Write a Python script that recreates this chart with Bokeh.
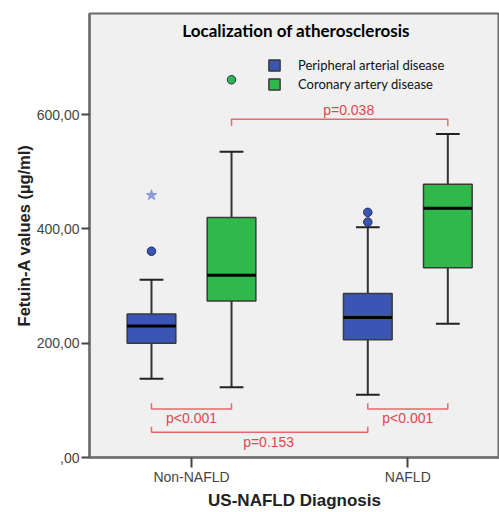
from bokeh.plotting import figure
from bokeh.models import Range1d, FixedTicker, Legend, LegendItem, ColumnDataSource
from bokeh.core.properties import value
from bokeh.embed import file_html
from bokeh.resources import INLINE

# ---------------- data ----------------
groups = ["Non-NAFLD", "NAFLD"]
series = ["Peripheral arterial disease", "Coronary artery disease"]
series_colors = ["#3b55b5", "#2fb94b"]

pad_lower = [138, 110]
pad_q1 = [200, 206]
pad_median = [230, 245]
pad_q3 = [251, 287]
pad_upper = [311, 403]

cad_lower = [123, 234]
cad_q1 = [274, 332]
cad_median = [319, 436]
cad_q3 = [420, 478]
cad_upper = [535, 566]

# outliers: (group index, series index, value)
outlier_group = [0, 1, 1, 0]
outlier_series = [0, 0, 0, 1]
outlier_value = [361, 412, 429, 661]
extreme_group = [0]
extreme_series = [0]
extreme_value = [459]

# significance brackets
bracket_from = [(0, 0), (1, 0), (0, 0), (0, 1)]
bracket_to = [(0, 1), (1, 1), (1, 0), (1, 1)]
bracket_y = [85, 85, 44, 592]
bracket_tip = [95, 95, 54, 580]
bracket_text_y = [70, 70, 27, 608]
bracket_text_dx = [0, 0, 9, 9]
bracket_label = ["p<0.001", "p<0.001", "p=0.153", "p=0.038"]

y_ticks = [0, 200, 400, 600]
y_tick_labels = [",00", "200,00", "400,00", "600,00"]

# ---------------- layout constants ----------------
OFFSET = 0.185
BOX_W = 0.225
CAP_W = 0.11
RED = "#e0474c"
AXIS_FONT = "Liberation Sans"
X0, X1 = 0.5284, 2.4239

def xpos(g, s):
    return (g + 1) + (OFFSET if s == 1 else -OFFSET)

p = figure(width=499, height=512, output_backend="svg", toolbar_location=None,
           x_range=Range1d(X0, X1), y_range=Range1d(0, 777),
           min_border_left=89, min_border_right=0, min_border_top=13, min_border_bottom=55)
p.background_fill_color = "#f0f0f0"
p.border_fill_color = "white"
p.outline_line_color = "#6a6a6a"
p.outline_line_width = 2
p.xgrid.visible = False
p.ygrid.visible = False

stats = [
    (pad_lower, pad_q1, pad_median, pad_q3, pad_upper),
    (cad_lower, cad_q1, cad_median, cad_q3, cad_upper),
]

legend_items = []
for s, (lo, q1, med, q3, up) in enumerate(stats):
    xs = [xpos(g, s) for g in range(len(groups))]
    src = ColumnDataSource(dict(
        x=xs, left=[x - BOX_W / 2 for x in xs], right=[x + BOX_W / 2 for x in xs],
        cl=[x - CAP_W / 2 for x in xs], cr=[x + CAP_W / 2 for x in xs],
        lo=lo, q1=q1, med=med, q3=q3, up=up))
    p.segment(x0="x", y0="q3", x1="x", y1="up", source=src, line_color="#333333", line_width=2)
    p.segment(x0="x", y0="q1", x1="x", y1="lo", source=src, line_color="#333333", line_width=2)
    p.segment(x0="cl", y0="up", x1="cr", y1="up", source=src, line_color="#222222", line_width=2)
    p.segment(x0="cl", y0="lo", x1="cr", y1="lo", source=src, line_color="#222222", line_width=2)
    r = p.quad(left="left", right="right", bottom="q1", top="q3", source=src,
               fill_color=series_colors[s], line_color="#3a3a3a", line_width=1.5)
    p.segment(x0="left", y0="med", x1="right", y1="med", source=src, line_color="black", line_width=3)
    legend_items.append(LegendItem(label=series[s], renderers=[r]))

# outliers
p.scatter(x=[xpos(g, s) for g, s in zip(outlier_group, outlier_series)], y=outlier_value,
          marker="circle", size=8.5,
          fill_color=[series_colors[s] for s in outlier_series], line_color="#1e2a55", line_width=1)
p.scatter(x=[xpos(g, s) for g, s in zip(extreme_group, extreme_series)], y=extreme_value,
          marker="star", size=11, fill_color="#8a9ae0", line_color="#8a9ae0")

# brackets
for (g0, s0), (g1, s1), y, tip, ty, dx, lab in zip(bracket_from, bracket_to, bracket_y,
                                                   bracket_tip, bracket_text_y, bracket_text_dx,
                                                   bracket_label):
    x0 = xpos(g0, s0)
    x1 = xpos(g1, s1)
    p.line(x=[x0, x0, x1, x1], y=[tip, y, y, tip], line_color="#e46a6a", line_width=1.5)
    p.text(x=[(x0 + x1) / 2], y=[ty], text=[lab], x_offset=dx, text_align="center",
           text_baseline="middle", text_color=RED, text_font=value(AXIS_FONT),
           text_font_size="14px")

# title inside plot
p.text(x=[1.4836], y=[748], text=["Localization of atherosclerosis"],
       text_align="center", text_baseline="middle", text_color="black",
       text_font=value("Lato"), text_font_size="17px", text_font_style="bold")

legend = Legend(items=legend_items, location=(178, 365), orientation="vertical",
                glyph_width=14, glyph_height=14, label_standoff=17, spacing=3,
                padding=0, margin=0, label_height=14,
                label_text_font="Lato", label_text_font_size="13px",
                label_text_color="#111111", background_fill_alpha=0,
                border_line_alpha=0)
p.add_layout(legend, "center")

# axes
p.xaxis.ticker = FixedTicker(ticks=[1, 2])
p.xaxis.major_label_overrides = {1: groups[0], 2: groups[1]}
p.yaxis.ticker = FixedTicker(ticks=y_ticks)
p.yaxis.major_label_overrides = dict(zip(y_ticks, y_tick_labels))
for ax in (p.xaxis, p.yaxis):
    ax.axis_line_color = "#707070"
    ax.axis_line_width = 2.5
    ax.major_tick_line_color = "#444444"
    ax.major_tick_line_width = 2
    ax.major_tick_in = 0
    ax.minor_tick_line_color = None
    ax.major_label_text_font = AXIS_FONT
    ax.major_label_text_font_size = "14px"
    ax.major_label_text_color = "#444444"
    ax.axis_label_text_font = AXIS_FONT
    ax.axis_label_text_font_style = "bold"
    ax.axis_label_text_color = "#222222"
p.xaxis.major_tick_out = 10
p.yaxis.major_tick_out = 8
p.xaxis.major_label_standoff = 1
p.yaxis.major_label_standoff = 2
p.xaxis.axis_label = "US-NAFLD Diagnosis"
p.yaxis.axis_label = "Fetuin-A values (µg/ml)"
p.xaxis.axis_label_text_font_size = "17px"
p.yaxis.axis_label_text_font_size = "16.5px"
p.xaxis.axis_label_standoff = 3
p.yaxis.axis_label_standoff = 1

open("out.html", "w").write(file_html(p, INLINE))
